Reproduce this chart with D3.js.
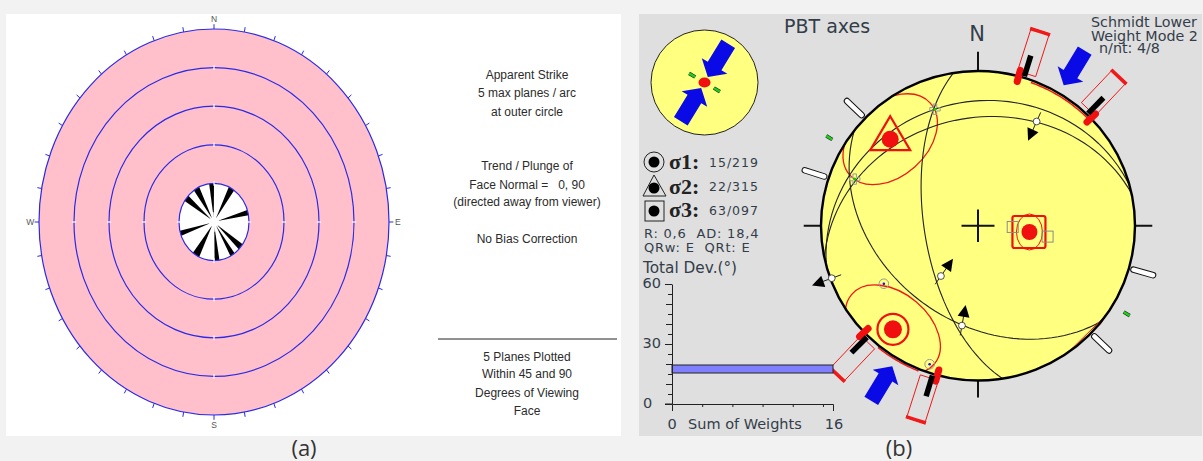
<!DOCTYPE html>
<html>
<head>
<meta charset="utf-8">
<script src="https://cdn.jsdelivr.net/npm/d3@7"></script>
<style>
	html, body { margin: 0; padding: 0; background: #f2f2f2; }
	svg { display: block; }
	.note { font-family: "Liberation Sans", sans-serif; font-size: 12px; fill: #2b2b2b; text-anchor: middle; }
	.vera { font-family: "DejaVu Sans", sans-serif; fill: #333d4a; }
	.cap { font-family: "Open Sans", sans-serif; font-size: 22px; fill: #333; text-anchor: middle; }
</style>
</head>
<body>
<script>
// (a) rose diagram
const ringLevels = [1, 0.8, 0.6, 0.4, 0.2];
const roseWedges = [[352, 360], [325, 335], [303, 313], [25, 35], [72, 81], [249, 258], [205, 217], [171, 180], [144, 153], [125, 136]];
const roseTicks = d3.range(0, 360, 10);
const compassA = [["N", 0], ["E", 90], ["S", 180], ["W", 270]];
const notes = [
	["Apparent Strike", 79], ["5 max planes / arc", 97], ["at outer circle", 116],
	["Trend / Plunge of", 170], ["Face Normal =   0, 90", 189], ["(directed away from viewer)", 206],
	["No Bias Correction", 243],
	["5 Planes Plotted", 361], ["Within 45 and 90", 378], ["Degrees of Viewing", 397], ["Face", 415]
];

// (b) stereonet: planes are [dip direction, dip], points are [trend, plunge]
const planes = [[261, 62], [218, 39], [345, 21], [348, 31]];
const sigma1 = [219, 15];
const sigma2 = [315, 22];
const sigma3 = [97, 63];
const slipPoints = [[29, 24], [216, 57], [189, 35], [250, 1]];
const slipBearings = [204, 35, 10, 250];
const greenMarks = [[340, 21], [291, 17]];
const blueMarks = [[238, 30], [199, 6]];
const grayBoxes = [[92, 72], [99, 53]];
const whiteBars = [106, 134, 288, 314];
const greenBars = [121, 301];
const pAxisRects = [17.5, 43, 197.5, 223];
const pAxisBlack = [17, 44, 196.7, 224.5];
const pAxisRed = [15, 46, 195, 226.5];
const blueAxes = [31, 211];
const rimTicks = [0, 90, 180, 270];
const rimArcs = [[20, 45], [202, 219]];
const rimChord = [125, 145];

// total deviation histogram
const devTicks = d3.range(0, 65, 5);
const weightTicks = [3, 6, 9, 12, 15];
const devBar = [15.5, 19.5];
const weightMax = 16;

const width = 1203, height = 461;
const svg = d3.select("body").append("svg").attr("width", width).attr("height", height);

const rad = Math.PI / 180;
const line = d3.line();

// panels
svg.append("rect").attr("x", 6).attr("y", 14).attr("width", 615).attr("height", 422).attr("fill", "#fff");
svg.append("rect").attr("x", 639).attr("y", 14).attr("width", 563).attr("height", 422).attr("fill", "#dfdfdf");

/* ---------- panel a ---------- */
const ax = d3.scaleLinear().domain([-1, 1]).range([39, 389]);
const ay = d3.scaleLinear().domain([-1, 1]).range([415, 29]);
const atA = function(az, r) { return [ax(r * Math.sin(az * rad)), ay(r * Math.cos(az * rad))]; };

const a = svg.append("g");
a.append("ellipse").attr("cx", ax(0)).attr("cy", ay(0)).attr("rx", ax(1) - ax(0)).attr("ry", ay(0) - ay(1))
	.attr("fill", "#ffc0cb");
a.append("ellipse").attr("cx", ax(0)).attr("cy", ay(0)).attr("rx", ax(0.2) - ax(0)).attr("ry", ay(0) - ay(0.2))
	.attr("fill", "#fff");

a.selectAll(".wedge").data(roseWedges).enter().append("path")
	.attr("fill", "#000")
	.attr("d", function(d) {
		let pts = [atA((d[0] + d[1]) / 2, 0.02)];
		for (let t = d[0]; t <= d[1]; t += 2) pts.push(atA(t, 0.2));
		return line(pts) + "Z";
	});

a.selectAll(".ring").data(ringLevels).enter().append("ellipse")
	.attr("cx", ax(0)).attr("cy", ay(0))
	.attr("rx", function(d) { return ax(d) - ax(0); })
	.attr("ry", function(d) { return ay(0) - ay(d); })
	.attr("fill", "none").attr("stroke", "#2a2ae6").attr("stroke-width", 1.2);

a.selectAll(".tick").data(roseTicks).enter().append("path")
	.attr("stroke", "#2a2ae6").attr("stroke-width", 1)
	.attr("d", function(d) { return line([atA(d, 1), atA(d, 1.025)]); });

// white crosshair marks on the rings and star at the centre
a.append("circle").attr("cx", ax(0)).attr("cy", ay(0)).attr("r", 5).attr("fill", "#fff");
rimTicks.forEach(function(az) {
	ringLevels.forEach(function(r) {
		if (r === 1) return;
		a.append("path").attr("stroke", "#fff").attr("stroke-width", 1.2)
			.attr("d", line([atA(az, r - 0.012), atA(az, r + 0.012)]));
	});
	a.append("path").attr("stroke", "#fff").attr("stroke-width", 1.4)
		.attr("d", line([atA(az, 0), atA(az, 0.05)]));
});

a.selectAll(".compass").data(compassA).enter().append("text")
	.attr("class", "note")
	.attr("x", function(d) { return atA(d[1], 1.05)[0]; })
	.attr("y", function(d) { return atA(d[1], 1.05)[1] + 3; })
	.style("font-size", "8.5px").style("fill", "#555")
	.text(function(d) { return d[0]; });

svg.selectAll(".notes").data(notes).enter().append("text")
	.attr("class", "note").attr("x", 527)
	.attr("y", function(d) { return d[1]; })
	.style("white-space", "pre")
	.text(function(d) { return d[0]; });
svg.append("line").attr("x1", 438).attr("x2", 617).attr("y1", 339).attr("y2", 339).attr("stroke", "#222");

/* ---------- panel b: stereonet ---------- */
const nx = d3.scaleLinear().domain([-1, 1]).range([821, 1135]);
const ny = d3.scaleLinear().domain([-1, 1]).range([380.5, 71]);
const at = function(az, r) { return [nx(r * Math.sin(az * rad)), ny(r * Math.cos(az * rad))]; };

// Schmidt lower hemisphere
const schmidt = function(d) {
	return at(d[0], Math.SQRT2 * Math.sin((90 - d[1]) / 2 * rad));
};

// sample a plane as a great circle
const greatCircle = function(d) {
	const dd = d[0] * rad, dip = d[1] * rad;
	let pts = [];
	for (let t = 0; t <= 180; t += 3) {
		const c = Math.cos(t * rad), s = Math.sin(t * rad);
		const north = c * Math.cos(dd - Math.PI / 2) + s * Math.cos(dip) * Math.cos(dd);
		const east = c * Math.sin(dd - Math.PI / 2) + s * Math.cos(dip) * Math.sin(dd);
		const down = s * Math.sin(dip);
		pts.push(schmidt([Math.atan2(east, north) / rad, Math.asin(Math.min(1, down)) / rad]));
	}
	return pts;
};

// block arrow, r in net radii
const blockArrow = function(pt, az, rTail, rTip, halfShaft, halfHead, headLen) {
	const tail = pt(az, rTail), tip = pt(az, rTip);
	const len = Math.hypot(tip[0] - tail[0], tip[1] - tail[1]);
	const ux = (tip[0] - tail[0]) / len, uy = (tip[1] - tail[1]) / len;
	const px = -uy, py = ux;
	const neck = [tip[0] - ux * headLen, tip[1] - uy * headLen];
	return line([
		[tail[0] + px * halfShaft, tail[1] + py * halfShaft],
		[neck[0] + px * halfShaft, neck[1] + py * halfShaft],
		[neck[0] + px * halfHead, neck[1] + py * halfHead],
		tip,
		[neck[0] - px * halfHead, neck[1] - py * halfHead],
		[neck[0] - px * halfShaft, neck[1] - py * halfShaft],
		[tail[0] - px * halfShaft, tail[1] - py * halfShaft]
	]) + "Z";
};

const greenMark = function(g, p, bearing) {
	const ux = Math.sin(bearing * rad) * 3.5, uy = -Math.cos(bearing * rad) * 3.5;
	const seg = line([[p[0] - ux, p[1] - uy], [p[0] + ux, p[1] + uy]]);
	g.append("path").attr("d", seg).attr("stroke", "#222").attr("stroke-width", 3.6);
	g.append("path").attr("d", seg).attr("stroke", "#1fd01f").attr("stroke-width", 2.4);
};

const b = svg.append("g");

svg.append("clipPath").attr("id", "net-clip").append("ellipse")
	.attr("cx", nx(0)).attr("cy", ny(0)).attr("rx", nx(1) - nx(0)).attr("ry", ny(0) - ny(1));

b.append("ellipse").attr("cx", nx(0)).attr("cy", ny(0)).attr("rx", nx(1) - nx(0)).attr("ry", ny(0) - ny(1))
	.attr("fill", "#ffff80");

// N E S W ticks and centre cross
b.selectAll(".rimtick").data(rimTicks).enter().append("path")
	.attr("stroke", "#111").attr("stroke-width", 2)
	.attr("d", function(d) {
		return line([at(d, 1), at(d, d === 0 ? 1.125 : 1.11)]);
	});
rimTicks.forEach(function(d) {
	b.append("path").attr("stroke", "#111").attr("stroke-width", 2)
		.attr("d", line([at(d, 0), at(d, 0.105)]));
});

// red confidence ellipses (centre, semi axes in px, rotation)
const inner = b.append("g").attr("clip-path", "url(#net-clip)");
[[sigma2, 54, 37, -42], [sigma1, 54, 36, 40]].forEach(function(e) {
	const c = schmidt(e[0]);
	inner.append("ellipse").attr("rx", e[1]).attr("ry", e[2])
		.attr("transform", "translate(" + c[0] + "," + c[1] + ") rotate(" + e[3] + ")")
		.attr("fill", "none").attr("stroke", "#f01818").attr("stroke-width", 1.3);
});

// wrapped parts of the confidence regions at the rim
rimArcs.forEach(function(d, i) {
	b.append("path").attr("fill", "none").attr("stroke", "#f01818").attr("stroke-width", 1.5)
		.attr("d", line(d3.range(d[0], d[1] + 1, 1).map(function(t) { return at(t, i === 0 ? 0.985 : 1.012); })));
});

// planes
b.selectAll(".plane").data(planes).enter().append("path")
	.attr("fill", "none").attr("stroke", "#222").attr("stroke-width", 1.1)
	.attr("d", function(d) { return line(greatCircle(d)); });

b.append("path").attr("stroke", "#f01818").attr("stroke-width", 1)
	.attr("d", line([at(rimChord[0], 1), at(rimChord[1], 1)]));

// rim
b.append("ellipse").attr("cx", nx(0)).attr("cy", ny(0)).attr("rx", nx(1) - nx(0)).attr("ry", ny(0) - ny(1))
	.attr("fill", "none").attr("stroke", "#000").attr("stroke-width", 2.4);

// sigma symbols
const s1 = schmidt(sigma1), s2 = schmidt(sigma2), s3 = schmidt(sigma3);
b.append("circle").attr("cx", s1[0]).attr("cy", s1[1]).attr("r", 15.5).attr("fill", "none").attr("stroke", "#f01010").attr("stroke-width", 2.2);
b.append("circle").attr("cx", s1[0]).attr("cy", s1[1]).attr("r", 9).attr("fill", "#f01010");
b.append("path").attr("fill", "none").attr("stroke", "#f01010").attr("stroke-width", 2.2)
	.attr("d", "M" + s2[0] + "," + (s2[1] - 23) + "L" + (s2[0] + 20) + "," + (s2[1] + 11) + "L" + (s2[0] - 20) + "," + (s2[1] + 11) + "Z");
b.append("circle").attr("cx", s2[0]).attr("cy", s2[1]).attr("r", 8.5).attr("fill", "#f01010");
b.append("rect").attr("x", s3[0] - 17).attr("y", s3[1] - 16).attr("width", 33).attr("height", 32).attr("rx", 2)
	.attr("fill", "none").attr("stroke", "#f01010").attr("stroke-width", 2.2);
b.append("circle").attr("cx", s3[0]).attr("cy", s3[1]).attr("r", 8).attr("fill", "#f01010");
b.append("ellipse").attr("cx", s3[0]).attr("cy", s3[1]).attr("rx", 13).attr("ry", 18).attr("fill", "none").attr("stroke", "#f01010").attr("stroke-width", 1);

grayBoxes.forEach(function(d) {
	const p = schmidt(d);
	b.append("rect").attr("x", p[0] - 5.5).attr("y", p[1] - 5.5).attr("width", 11).attr("height", 11)
		.attr("fill", "none").attr("stroke", "#8a8a8a").attr("stroke-width", 1);
});
greenMarks.forEach(function(d) {
	const p = schmidt(d);
	b.append("path").attr("fill", "none").attr("stroke", "#999").attr("stroke-width", 1)
		.attr("d", d3.symbol().type(d3.symbolCross).size(60)())
		.attr("transform", "translate(" + p[0] + "," + p[1] + ")");
	b.append("circle").attr("cx", p[0]).attr("cy", p[1]).attr("r", 1.6).attr("fill", "#10c810");
});
blueMarks.forEach(function(d) {
	const p = schmidt(d);
	b.append("circle").attr("cx", p[0]).attr("cy", p[1]).attr("r", 4.8).attr("fill", "none").attr("stroke", "#999").attr("stroke-width", 1);
	b.append("circle").attr("cx", p[0]).attr("cy", p[1]).attr("r", 1.3).attr("fill", "#1010f0");
});

// slip arrows on the planes
slipPoints.forEach(function(d, i) {
	const p = schmidt(d), bear = slipBearings[i];
	const ux = Math.sin(bear * rad), uy = -Math.cos(bear * rad);
	b.append("path").attr("stroke", "#222").attr("stroke-width", 1)
		.attr("d", line([[p[0] - ux * 10, p[1] - uy * 10], [p[0] + ux * 10, p[1] + uy * 10]]));
	b.append("path").attr("fill", "#000")
		.attr("d", line([
			[p[0] + ux * 21, p[1] + uy * 21],
			[p[0] + ux * 9 - uy * 6, p[1] + uy * 9 + ux * 6],
			[p[0] + ux * 9 + uy * 6, p[1] + uy * 9 - ux * 6]
		]) + "Z");
	b.append("circle").attr("cx", p[0]).attr("cy", p[1]).attr("r", 3.4)
		.attr("fill", "#fff").attr("stroke", "#222").attr("stroke-width", 0.8);
});

// P axis rectangles, fault marks
pAxisRects.forEach(function(d) {
	b.append("path").attr("fill", "none").attr("stroke", "#f01818").attr("stroke-width", 1)
		.attr("d", blockArrow(at, d, 1.32, 1.03, 9.5, 9.5, 0));
	const outer = blockArrow(at, d, 1.32, 1.31, 9.5, 9.5, 0);
	b.append("path").attr("fill", "none").attr("stroke", "#f01818").attr("stroke-width", 2).attr("d", outer);
});
pAxisRed.forEach(function(d) {
	b.append("path").attr("stroke", "#f01010").attr("stroke-width", 7).attr("stroke-linecap", "round")
		.attr("d", line([at(d, 0.965), at(d, 1.04)]));
});
pAxisBlack.forEach(function(d) {
	b.append("path").attr("stroke", "#000").attr("stroke-width", 5.5)
		.attr("d", line([at(d, 1.01), at(d, 1.15)]));
});

whiteBars.forEach(function(d) {
	const seg = line([at(d, 1.03), at(d, 1.16)]);
	b.append("path").attr("d", seg).attr("stroke", "#111").attr("stroke-width", 6.5).attr("stroke-linecap", "round");
	b.append("path").attr("d", seg).attr("stroke", "#fff").attr("stroke-width", 4.5).attr("stroke-linecap", "round");
});
greenBars.forEach(function(d) {
	greenMark(b, at(d, 1.105), d);
});

blueAxes.forEach(function(d) {
	b.append("path").attr("fill", "#0a0ae6")
		.attr("d", blockArrow(at, d, 1.32, 1.06, 8, 15, 13));
});

/* ---------- inset ball ---------- */
const ix = d3.scaleLinear().domain([-1, 1]).range([651, 758]);
const iy = d3.scaleLinear().domain([-1, 1]).range([135, 30]);
const atI = function(az, r) { return [ix(r * Math.sin(az * rad)), iy(r * Math.cos(az * rad))]; };
b.append("ellipse").attr("cx", ix(0)).attr("cy", iy(0)).attr("rx", ix(1) - ix(0)).attr("ry", iy(0) - iy(1))
	.attr("fill", "#ffff80").attr("stroke", "#222").attr("stroke-width", 1);
blueAxes.forEach(function(d) {
	b.append("path").attr("fill", "#0a0ae6").attr("d", blockArrow(atI, d, 0.86, 0.12, 8, 15, 13));
});
b.append("ellipse").attr("cx", ix(0)).attr("cy", iy(0)).attr("rx", 6).attr("ry", 5).attr("fill", "#f01010");
greenBars.forEach(function(d) {
	greenMark(b, atI(d, 0.27), d);
});

/* ---------- sigma legend ---------- */
const legend = [
	{ name: "\u03c31", val: sigma1, y: 169, ty: 167 },
	{ name: "\u03c32", val: sigma2, y: 194, ty: 191 },
	{ name: "\u03c33", val: sigma3, y: 217, ty: 215 }
];
const pad3 = d3.format("03");
legend.forEach(function(d) {
	b.append("text").attr("x", 669).attr("y", d.y)
		.style("font-family", "'Liberation Serif', serif").style("font-weight", "bold").style("font-size", "22px")
		.style("fill", "#222").text(d.name + ":");
	b.append("text").attr("class", "vera").attr("x", 709).attr("y", d.ty).style("font-size", "12.5px").style("letter-spacing", "1px")
		.text(d3.format("02")(d.val[1]) + "/" + pad3(d.val[0]));
});
b.append("circle").attr("cx", 654).attr("cy", 162).attr("r", 10).attr("fill", "none").attr("stroke", "#222");
b.append("circle").attr("cx", 654).attr("cy", 162).attr("r", 5.5).attr("fill", "#000");
b.append("path").attr("fill", "none").attr("stroke", "#222").attr("d", "M654,175L666,196H643Z");
b.append("circle").attr("cx", 654).attr("cy", 188).attr("r", 5.5).attr("fill", "#000");
b.append("rect").attr("x", 645).attr("y", 201).attr("width", 19).attr("height", 20).attr("fill", "none").attr("stroke", "#222");
b.append("circle").attr("cx", 654).attr("cy", 211).attr("r", 5.5).attr("fill", "#000");

const vera = function(txt, x, y, size, anchor) {
	return b.append("text").attr("class", "vera").attr("x", x).attr("y", y)
		.attr("text-anchor", anchor || "start").style("font-size", size + "px").style("white-space", "pre").text(txt);
};
vera("R: 0,6  AD: 18,4", 644, 238, 13).style("letter-spacing", "0.8px");
vera("QRw: E  QRt: E", 644, 252, 13).style("letter-spacing", "0.8px");
vera("Total Dev.(\u00b0)", 643, 273, 15.3);
vera("PBT axes", 784, 33, 19);
vera("N", 977, 41, 21, "middle");
vera("Schmidt Lower", 1091, 27, 14.3);
vera("Weight Mode 2", 1091, 41, 14.3);
vera("n/nt: 4/8", 1099, 53, 14.3);

/* ---------- histogram ---------- */
const hx = d3.scaleLinear().domain([0, weightMax]).range([672, 833]);
const hy = d3.scaleLinear().domain([0, 60]).range([404, 284]);

b.append("rect").attr("x", hx(0)).attr("y", hy(devBar[1])).attr("width", hx(weightMax) - hx(0)).attr("height", hy(devBar[0]) - hy(devBar[1]))
	.attr("fill", "#8080ff").attr("stroke", "#222").attr("stroke-width", 1);

const yAxisG = b.append("g").attr("transform", "translate(" + hx(0) + ",0)")
	.call(d3.axisLeft(hy).tickValues(devTicks).tickFormat("").tickSizeOuter(0).tickSizeInner(5));
yAxisG.selectAll(".tick line").attr("x2", function(d) { return d % 30 === 0 ? -7 : (d % 10 === 0 ? -6 : -4); });
const xAxisG = b.append("g").attr("transform", "translate(0," + hy(0) + ")")
	.call(d3.axisBottom(hx).tickValues(weightTicks).tickFormat("").tickSizeOuter(7).tickSizeInner(3));
xAxisG.selectAll("line, path").attr("stroke", "#222");
yAxisG.selectAll("line, path").attr("stroke", "#222");
b.append("path").attr("stroke", "#222").attr("d", line([[hx(0) - 7, hy(0)], [hx(0), hy(0)]]));

vera("60", 661, 288, 14.5, "end");
vera("30", 661, 348, 14.5, "end");
vera("0", 643, 408, 14.5);
vera("0", 672, 429, 14.5, "middle");
vera("Sum of Weights", 688, 429, 14.5);
vera("16", 834, 429, 14.5, "middle");

svg.append("text").attr("class", "cap").attr("x", 304).attr("y", 456).text("(a)");
svg.append("text").attr("class", "cap").attr("x", 899).attr("y", 456).text("(b)");
</script>
</body>
</html>
